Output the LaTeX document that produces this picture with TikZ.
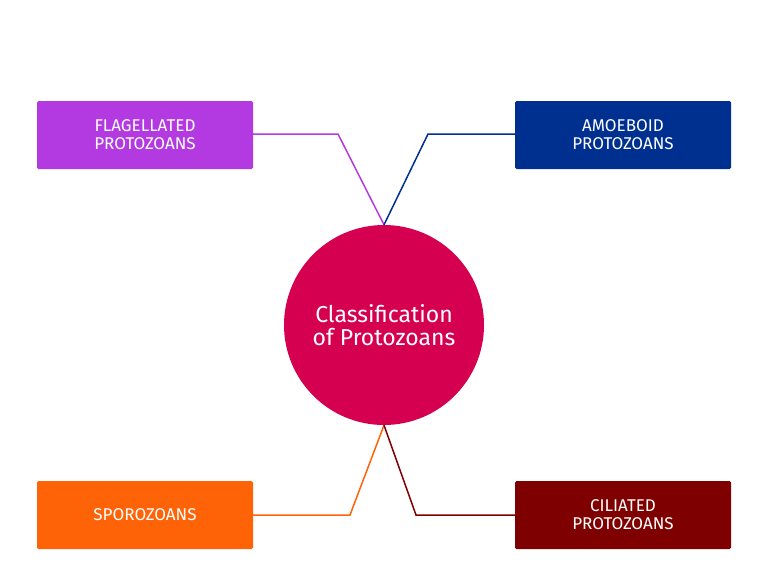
\documentclass[tikz,border=0pt]{standalone}
\usepackage{fontspec}
\setmainfont{Fira Sans}
\usetikzlibrary{positioning}
\definecolor{flagcol}{RGB}{178,58,224}
\definecolor{amoecol}{RGB}{0,48,143}
\definecolor{centcol}{RGB}{213,0,80}
\definecolor{sporcol}{RGB}{255,99,8}
\definecolor{cilicol}{RGB}{127,0,0}
\begin{document}
\begin{tikzpicture}[x=1pt,y=-1pt,
					group/.style={rectangle, rounded corners=1.5pt, minimum width=216pt, minimum height=68pt, text=white, align=center, font=\fontsize{17}{18}\selectfont},
					hub/.style={circle, fill=centcol, minimum size=200pt, text=white, align=center, font=\fontsize{23}{23}\selectfont},
					link/.style={line width=1.5pt}
				]
				\useasboundingbox (0,0) rectangle (768,576);
				\node[hub] (classif) at (384,325) {Classification\\of Protozoans};
				\node[group, fill=flagcol] (flagellated) at (145,135) {FLAGELLATED\\PROTOZOANS};
				\node[group, fill=amoecol] (amoeboid) at (623,135) {AMOEBOID\\PROTOZOANS};
				\node[group, fill=sporcol] (sporozoans) at (145,515) {SPOROZOANS};
				\node[group, fill=cilicol] (ciliated) at (623,515) {CILIATED\\PROTOZOANS};
				\coordinate (flagbend) at (338,134);
				\coordinate (amoebend) at (428,134);
				\coordinate (sporbend) at (350,515);
				\coordinate (cilibend) at (416,515);
				\draw[link, flagcol] (flagellated.east |- flagbend) -- (flagbend) -- (classif.north);
				\draw[link, amoecol] (amoeboid.west |- amoebend) -- (amoebend) -- (classif.north);
				\draw[link, sporcol] (sporozoans.east) -- (sporbend) -- (classif.south);
				\draw[link, cilicol] (ciliated.west) -- (cilibend) -- (classif.south);
\end{tikzpicture}
\end{document}
